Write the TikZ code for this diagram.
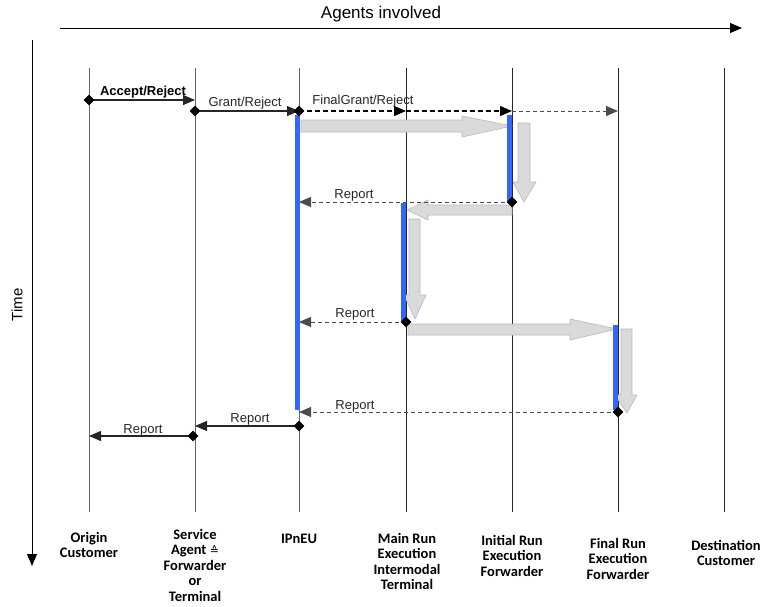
\documentclass[tikz,border=0pt]{standalone}
\usepackage{fontspec}
\setmainfont{Liberation Sans}
\newfontfamily\hdrfont{Carlito}
\newfontfamily\symfont{DejaVu Sans}
\usetikzlibrary{arrows.meta,shapes.geometric}
\definecolor{barblue}{RGB}{51,102,255}
\definecolor{arrowgray}{RGB}{218,218,218}
\definecolor{arrowedge}{RGB}{185,185,185}
\tikzset{
 lifeline/.style={draw=black!60, line width=0.9pt},
 lifelinedark/.style={draw=black!85, line width=0.9pt},
 actbar/.style={fill=barblue, draw=none},
 grayarrow/.style={fill=arrowgray, draw=arrowedge, line width=0.6pt},
 msg/.style={draw=black!85, line width=1.1pt, -{Triangle[length=12pt,width=10pt]}},
 grantmsg/.style={draw=black, line width=1.4pt, dash pattern=on 5pt off 3pt, -{Triangle[length=12pt,width=10pt]}},
 repmsg/.style={draw=black!70, line width=1pt, dash pattern=on 4pt off 3pt, -{Triangle[length=12pt,width=10pt]}},
 dia/.style={diamond, fill=black, draw=none, inner sep=0pt, minimum size=11pt},
 lbl/.style={font=\fontsize{13}{15}\selectfont, inner sep=0pt, text=black!85},
 hdr/.style={font=\hdrfont\bfseries\fontsize{14.5}{15.5}\selectfont, align=center, anchor=north, inner sep=0pt},
 axis/.style={draw=black, line width=0.9pt, -{Triangle[length=12pt,width=10pt]}},
}
\begin{document}
\begin{tikzpicture}[x=1pt,y=-1pt]
\useasboundingbox (0,0) rectangle (765,606);

% axes
\coordinate (agS) at (60,28);
\coordinate (agE) at (742,28);
\draw[axis] (agS) -- (agE);
\node[font=\fontsize{17}{19}\selectfont, inner sep=0pt] (agents) at (381,14) {Agents involved};
\coordinate (tmS) at (32,40);
\coordinate (tmE) at (32,566);
\draw[axis] (tmS) -- (tmE);
\node[font=\fontsize{15}{17}\selectfont, inner sep=0pt, rotate=90] (time) at (17,305) {Time};

% lifelines
\foreach \n/\x in {O/89,S/195,I/299}{
  \coordinate (\n top) at (\x,68);
  \coordinate (\n bot) at (\x,512);
  \draw[lifeline] (\n top) -- (\n bot);
}
\foreach \n/\x in {M/406,N/512,F/618,D/724}{
  \coordinate (\n top) at (\x,68);
  \coordinate (\n bot) at (\x,512);
  \draw[lifelinedark] (\n top) -- (\n bot);
}

% gray process arrows
\path[grayarrow] (301,120) -- (462,120) -- (462,116) -- (512,126) -- (462,137) -- (462,132) -- (301,132) -- cycle;
\path[grayarrow] (518,123) -- (530,123) -- (530,182) -- (536,182) -- (524,202) -- (513,182) -- (518,182) -- cycle;
\path[grayarrow] (512,205) -- (428,205) -- (428,200) -- (407,210) -- (428,220) -- (428,215) -- (512,215) -- cycle;
\path[grayarrow] (409,219) -- (420,219) -- (420,295) -- (426,295) -- (415,319) -- (404,295) -- (409,295) -- cycle;
\path[grayarrow] (408,324) -- (570,324) -- (570,319) -- (617,329) -- (570,340) -- (570,335) -- (408,335) -- cycle;
\path[grayarrow] (621,329) -- (632,329) -- (632,395) -- (637,395) -- (627,413) -- (615,395) -- (621,395) -- cycle;

% activation bars
\fill[actbar] (294.5,115) rectangle (299.5,410);
\fill[actbar] (507,115) rectangle (512,202);
\fill[actbar] (401,203) rectangle (406,322);
\fill[actbar] (613,325) rectangle (618,410);

% message endpoints
\coordinate (m1a) at (89,100);  \coordinate (m1b) at (195,100);
\coordinate (m2a) at (195,111); \coordinate (m2b) at (299,111);
\coordinate (m3a) at (299,111); \coordinate (m3b) at (406,111);
\coordinate (m3c) at (512,111); \coordinate (m3d) at (618,111);
\coordinate (r1a) at (512,202); \coordinate (r1b) at (299,202);
\coordinate (r2a) at (406,322); \coordinate (r2b) at (299,322);
\coordinate (r3a) at (618,412); \coordinate (r3b) at (299,412);
\coordinate (r4a) at (299,426); \coordinate (r4b) at (195,426);
\coordinate (r5a) at (193,436); \coordinate (r5b) at (89,436);

% messages
\draw[msg] (m1a) -- (m1b);
\draw[msg] (m2a) -- (m2b);
\draw[grantmsg] (m3a) -- (m3b);
\draw[grantmsg] (m3b) -- (m3c);
\draw[repmsg] (m3c) -- (m3d);
\draw[repmsg] (r1a) -- (r1b);
\draw[repmsg] (r2a) -- (r2b);
\draw[repmsg] (r3a) -- (r3b);
\draw[msg] (r4a) -- (r4b);
\draw[msg] (r5a) -- (r5b);

% diamonds
\node[dia] (d1) at (m1a) {};
\node[dia] (d2) at (m2a) {};
\node[dia] (d3) at (m3a) {};
\node[dia] (d4) at (r1a) {};
\node[dia] (d5) at (r2a) {};
\node[dia] (d6) at (r3a) {};
\node[dia] (d7) at (r4a) {};
\node[dia] (d8) at (r5a) {};

% labels
\node[lbl, font=\bfseries\fontsize{13}{15}\selectfont, text=black] (l1) at (143,92) {Accept/Reject};
\node[lbl] (l2) at (245,103) {Grant/Reject};
\node[lbl] (l3) at (363,101) {FinalGrant/Reject};
\node[lbl] (l4) at (354,195) {Report};
\node[lbl] (l5) at (355,314) {Report};
\node[lbl] (l6) at (355,406) {Report};
\node[lbl] (l7) at (250,419) {Report};
\node[lbl] (l8) at (143,430) {Report};

% headers
\node[hdr] (hO) at (89,532) {Origin\\Customer};
\node[hdr] (hS) at (195,529) {Service\\Agent {\symfont\mdseries\fontsize{11}{15.5}\selectfont ≙}\\Forwarder\\or\\Terminal};
\node[hdr] (hI) at (299,534) {IPnEU};
\node[hdr] (hM) at (407,533) {Main Run\\Execution\\Intermodal\\Terminal};
\node[hdr] (hN) at (512,535) {Initial Run\\Execution\\Forwarder};
\node[hdr] (hF) at (618,538) {Final Run\\Execution\\Forwarder};
\node[hdr] (hD) at (726,540) {Destination\\Customer};
\end{tikzpicture}
\end{document}
